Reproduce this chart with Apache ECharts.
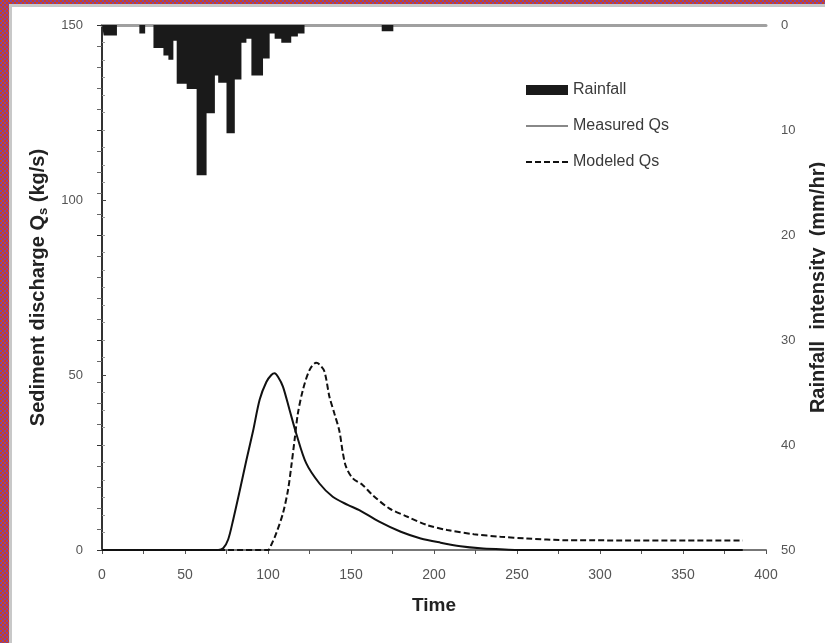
<!DOCTYPE html>
<html>
<head>
<meta charset="utf-8">
<script src="https://cdn.jsdelivr.net/npm/echarts@6/dist/echarts.min.js"></script>
<style>
  html, body { margin: 0; padding: 0; background: #fff; }
  .wrap { position: relative; width: 825px; height: 643px; background: #fff; overflow: hidden; }
  .echarts-box { position: absolute; left: 0; top: 0; width: 825px; height: 643px; }
  .edge-left, .edge-top {
    position: absolute;
    background-color: #7c44a4;
    background-image: url("data:image/svg+xml;utf8,<svg xmlns='http://www.w3.org/2000/svg' width='4' height='4' shape-rendering='crispEdges'><rect width='4' height='4' fill='%237c44a4'/><rect width='2' height='2' fill='%23d0401c'/><rect x='2' y='2' width='2' height='2' fill='%23d0401c'/></svg>");
    background-size: 4px 4px;
  }
  .edge-left { left: 0; top: 0; width: 9px; height: 643px; }
  .edge-top { left: 0; top: 0; width: 825px; height: 4px; }
  .gray-left { position: absolute; left: 9px; top: 4px; width: 3px; height: 639px; background: #c8c8c8; }
  .gray-top { position: absolute; left: 9px; top: 4px; width: 816px; height: 3px; background: #c8c8c8; }
</style>
</head>
<body>
<div class="wrap">
  <div id="chart" class="echarts-box"></div>
  <div class="edge-left"></div>
  <div class="edge-top"></div>
  <div class="gray-left"></div>
  <div class="gray-top"></div>
</div>
<script>
// measured sediment discharge (kg/s)
var measuredTime = [0, 70, 73, 76, 79, 83, 87, 91, 95, 99, 102, 104, 106, 109, 113, 117, 123, 131, 139, 148, 155, 167, 180, 192, 204, 216, 228, 240, 250, 300, 386]
var measuredQs = [0, 0, 0.5, 3, 8.6, 17, 25.7, 34, 43, 48, 50, 50.5, 49.5, 46.7, 40, 33.3, 24.8, 19, 15.2, 12.9, 11.4, 8.1, 5.2, 3.3, 2.1, 1.1, 0.5, 0.2, 0, 0, 0]

// modeled sediment discharge (kg/s)
var modeledTime = [0, 100, 102, 105, 109, 112, 114, 116, 118, 121, 125, 129, 131, 134, 137, 140, 143, 145, 147, 151, 157, 163, 173, 184, 196, 208, 224, 240, 256, 280, 386]
var modeledQs = [0, 0, 1.5, 4.8, 10.5, 17, 23.8, 31.4, 39, 45.7, 51.4, 53.5, 53, 51, 43.8, 39, 34, 28, 23.8, 20.5, 18.6, 15.7, 11.9, 9.5, 7.1, 5.7, 4.5, 3.8, 3.3, 2.8, 2.7]

// rainfall intensity (mm/hr), each value holds until the next time
var rainTime = [0, 1, 9, 22.5, 26, 31, 37, 40, 43, 45, 51, 57, 63, 68, 70, 75, 80, 84, 87, 90, 97, 101, 104, 108, 114, 118, 122, 168.5, 175.5]
var rainValue = [0, 1.0, 0, 0.8, 0, 2.2, 2.9, 3.3, 1.5, 5.6, 6.1, 14.3, 8.4, 4.8, 5.5, 10.3, 5.2, 1.7, 1.3, 4.8, 3.2, 0.8, 1.3, 1.7, 1.1, 0.8, 0, 0.6, 0]

function pairs(xs, ys) {
  return xs.map(function (x, i) { return [x, ys[i]] })
}

var font = 'Liberation Sans, Arial, sans-serif'
var myChart = echarts.init(document.getElementById('chart'))

var option = {
  animation: false,
  backgroundColor: 'transparent',
  textStyle: { fontFamily: font },
  grid: { left: 102, right: 59, top: 25, bottom: 93, containLabel: false, outerBoundsMode: 'none' },
  legend: {
    orient: 'vertical',
    left: 520,
    top: 77,
    itemWidth: 42,
    itemHeight: 10,
    itemGap: 20,
    textStyle: { fontSize: 16, color: '#3a3a3a', fontFamily: font, lineHeight: 15 },
    data: [
      { name: 'Rainfall', icon: 'rect' },
      { name: 'Measured Qs', itemStyle: { opacity: 0 }, lineStyle: { color: '#888', width: 2 } },
      { name: 'Modeled Qs', itemStyle: { opacity: 0 } }
    ]
  },
  xAxis: [
    {
      type: 'value',
      min: 0,
      max: 400,
      interval: 50,
      name: 'Time',
      nameLocation: 'middle',
      nameGap: 46,
      nameTextStyle: { fontSize: 19, fontWeight: 'bold', color: '#222' },
      axisLine: { lineStyle: { color: '#777', width: 2 } },
      axisTick: { inside: false, length: 4, lineStyle: { color: '#555' } },
      minorTick: { show: true, splitNumber: 2, length: 4, lineStyle: { color: '#555' } },
      axisLabel: { fontSize: 14, color: '#555', margin: 18 },
      splitLine: { show: false }
    },
    {
      type: 'value',
      position: 'top',
      min: 0,
      max: 400,
      axisLine: { lineStyle: { color: '#a0a0a0', width: 3 } },
      axisTick: { show: false },
      axisLabel: { show: false },
      splitLine: { show: false }
    }
  ],
  yAxis: [
    {
      type: 'value',
      min: 0,
      max: 150,
      interval: 50,
      name: '{t|Sediment discharge Q}{s|s}{t| (kg/s)}',
      nameLocation: 'middle',
      nameGap: 45,
      nameRotate: 90,
      nameTextStyle: {
        rich: {
          t: { fontSize: 20, fontWeight: 'bold', color: '#222', lineHeight: 24, verticalAlign: 'middle' },
          s: { fontSize: 13, fontWeight: 'bold', color: '#222', lineHeight: 24, verticalAlign: 'bottom' }
        }
      },
      axisLine: { show: true, lineStyle: { color: '#444', width: 2 } },
      axisTick: { inside: true, length: 4, lineStyle: { color: '#444' } },
      minorTick: { show: true, splitNumber: 10, length: 3, lineStyle: { color: '#999' } },
      axisLabel: { fontSize: 13, color: '#555', margin: 19 },
      splitLine: { show: false }
    },
    {
      type: 'value',
      position: 'right',
      min: 0,
      max: 50,
      interval: 10,
      inverse: true,
      name: 'Rainfall  intensity  (mm/hr)',
      nameLocation: 'middle',
      nameGap: 42,
      nameRotate: 90,
      nameTextStyle: { fontSize: 20, fontWeight: 'bold', color: '#222' },
      axisLine: { show: true, lineStyle: { color: '#333', width: 2 } },
      axisTick: { inside: true, length: 5, lineStyle: { color: '#333' } },
      minorTick: { show: true, splitNumber: 5, length: 5, lineStyle: { color: '#666' } },
      axisLabel: { fontSize: 13, color: '#555', margin: 15 },
      splitLine: { show: false }
    }
  ],
  series: [
    {
      name: 'Rainfall',
      type: 'line',
      step: 'end',
      xAxisIndex: 0,
      yAxisIndex: 1,
      symbol: 'none',
      color: '#1a1a1a',
      lineStyle: { width: 0 },
      areaStyle: { color: '#1a1a1a', opacity: 1 },
      data: pairs(rainTime, rainValue),
      z: 1
    },
    {
      name: 'Measured Qs',
      type: 'line',
      yAxisIndex: 0,
      symbol: 'none',
      smooth: 0.3,
      color: '#111',
      lineStyle: { color: '#111', width: 2 },
      data: pairs(measuredTime, measuredQs),
      z: 3
    },
    {
      name: 'Modeled Qs',
      type: 'line',
      yAxisIndex: 0,
      symbol: 'none',
      smooth: 0.3,
      color: '#111',
      lineStyle: { color: '#111', width: 2, type: [6, 3] },
      data: pairs(modeledTime, modeledQs),
      z: 3
    }
  ]
}

myChart.setOption(option)
</script>
</body>
</html>
